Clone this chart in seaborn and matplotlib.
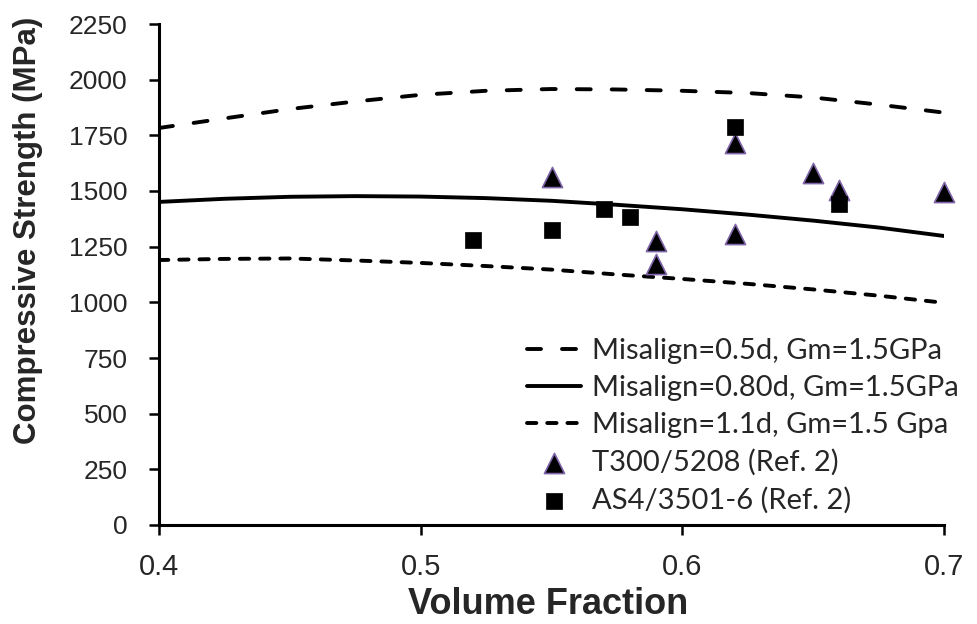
import matplotlib
matplotlib.use("Agg")
import matplotlib.pyplot as plt
import seaborn as sns
import pandas as pd

# Model predictions: compressive strength (MPa) vs fibre volume fraction
vf_model = [0.400, 0.425, 0.450, 0.475, 0.500, 0.525, 0.550,
            0.575, 0.600, 0.625, 0.650, 0.675, 0.700]
strength_05d = [1783, 1826, 1868, 1902, 1932, 1950, 1958,
                1956, 1950, 1940, 1920, 1888, 1852]
strength_080d = [1451, 1465, 1474, 1477, 1475, 1468, 1456,
                 1438, 1418, 1394, 1367, 1336, 1298]
strength_11d = [1190, 1195, 1197, 1188, 1177, 1163, 1147,
                1125, 1105, 1083, 1058, 1030, 998]

# Test data
vf_t300 = [0.55, 0.59, 0.59, 0.62, 0.62, 0.65, 0.66, 0.70]
str_t300 = [1565, 1276, 1171, 1715, 1306, 1582, 1504, 1496]
vf_as4 = [0.52, 0.55, 0.57, 0.58, 0.62, 0.66]
str_as4 = [1278, 1325, 1418, 1385, 1789, 1443]

labels = ["Misalign=0.5d, Gm=1.5GPa",
          "Misalign=0.80d, Gm=1.5GPa",
          "Misalign=1.1d, Gm=1.5 Gpa",
          "T300/5208 (Ref. 2)",
          "AS4/3501-6 (Ref. 2)"]
x_ticks = [0.4, 0.5, 0.6, 0.7]
y_ticks = [0, 250, 500, 750, 1000, 1250, 1500, 1750, 2000, 2250]

sns.set_style("ticks")
plt.rcParams["font.family"] = ["Liberation Sans", "DejaVu Sans"]

fig = plt.figure(figsize=(9.78, 6.24), dpi=100)
ax = fig.add_axes([159 / 978, 1 - 525 / 624, (944 - 159) / 978, (525 - 24) / 624])

lw = 2.8
curves = [(strength_05d, (3.6, 5.4)), (strength_080d, None), (strength_11d, (2.4, 2.8))]
for (vals, dash), lab in zip(curves, labels[:3]):
    df = pd.DataFrame({"vf": vf_model, "s": vals})
    sns.lineplot(data=df, x="vf", y="s", ax=ax, color="black", lw=lw, label=lab)
    line = ax.lines[-1]
    if dash is not None:
        line.set_dashes(dash)
        line.set_dash_capstyle("round")

sns.scatterplot(x=vf_t300, y=str_t300, ax=ax, marker="^", s=14.5 ** 2,
                color="black", edgecolor="#7F64A8", linewidth=1.2,
                label=labels[3], zorder=3, clip_on=False)
sns.scatterplot(x=vf_as4, y=str_as4, ax=ax, marker="s", s=11.5 ** 2,
                color="black", edgecolor="black", linewidth=0.5,
                label=labels[4], zorder=3, clip_on=False)

ax.set_xlim(0.4, 0.7)
ax.set_ylim(0, 2250)
ax.set_xticks(x_ticks)
ax.set_xticklabels([f"{v:.1f}" for v in x_ticks])
ax.set_yticks(y_ticks)
ax.tick_params(axis="both", direction="out", length=7.5, width=1.8, color="black")
ax.tick_params(axis="y", labelsize=19, pad=15)
ax.tick_params(axis="x", labelsize=21, pad=13)
for side in ["left", "bottom"]:
    ax.spines[side].set_linewidth(2.2)
    ax.spines[side].set_color("black")
sns.despine(ax=ax)

ax.set_xlabel("Volume Fraction", fontsize=26, fontweight="bold")
ax.xaxis.set_label_coords((548 - 159) / 785, -(604 - 525) / 501)
ax.xaxis.label.set_verticalalignment("center")
ax.set_ylabel("Compressive Strength (MPa)", fontsize=22.5, fontweight="bold")
ax.yaxis.set_label_coords((28 - 159) / 785, (525 - 230) / 501)
ax.yaxis.label.set_verticalalignment("center")

leg = ax.legend(loc="upper left", bbox_to_anchor=(527 / 978, 1 - 338 / 624),
                bbox_transform=fig.transFigure, frameon=False, borderpad=0,
                borderaxespad=0, handlelength=1.85, handletextpad=0.38,
                labelspacing=0.38, prop={"family": "Lato", "size": 21},
                scatterpoints=1)

fig.savefig("out.png", dpi=100)
